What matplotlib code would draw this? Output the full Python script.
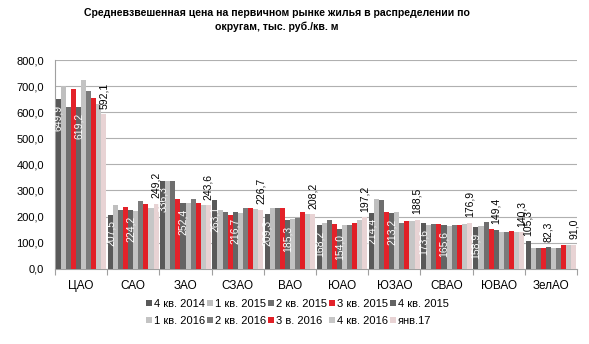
import numpy as np
import matplotlib
matplotlib.use("Agg")
import matplotlib.pyplot as plt
from matplotlib.ticker import FixedLocator, FuncFormatter

plt.rcParams['font.family'] = ['Liberation Sans', 'DejaVu Sans']

districts = ["ЦАО", "САО", "ЗАО", "СЗАО", "ВАО", "ЮАО", "ЮЗАО", "СВАО", "ЮВАО", "ЗелАО"]
periods = ["4 кв. 2014", "1 кв. 2015", "2 кв. 2015", "3 кв. 2015", "4 кв. 2015",
           "1 кв. 2016", "2 кв. 2016", "3 в. 2016", "4 кв. 2016", "янв.17"]

q4_2014 = [649.9, 207.5, 336.3, 263.1, 209.3, 168.2, 214.4, 173.6, 158.9, 105.3]
q1_2015 = [700.0, 244.0, 337.0, 226.0, 233.0, 177.0, 268.0, 168.0, 164.0, 78.0]
q2_2015 = [620.0, 226.0, 337.0, 217.0, 233.0, 186.0, 263.0, 172.0, 179.0, 78.0]
q3_2015 = [690.0, 236.0, 267.0, 206.0, 233.0, 170.0, 217.0, 171.0, 153.0, 78.0]
q4_2015 = [619.2, 224.2, 252.4, 216.7, 185.3, 154.0, 213.2, 165.6, 149.4, 82.3]
q1_2016 = [723.0, 222.0, 252.0, 213.0, 191.0, 168.0, 217.0, 164.0, 140.0, 81.0]
q2_2016 = [681.0, 258.0, 268.0, 233.0, 196.0, 168.0, 177.0, 167.0, 140.0, 78.0]
q3_2016 = [654.0, 249.0, 252.0, 233.0, 217.0, 177.0, 181.0, 168.0, 144.0, 91.0]
q4_2016 = [631.0, 233.0, 245.0, 229.0, 209.0, 185.0, 183.0, 171.0, 142.0, 91.0]
jan_2017 = [592.1, 249.2, 243.6, 226.7, 208.2, 197.2, 188.5, 176.9, 140.3, 91.0]

series = [q4_2014, q1_2015, q2_2015, q3_2015, q4_2015,
          q1_2016, q2_2016, q3_2016, q4_2016, jan_2017]
colors = ["#595959", "#bfbfbf", "#6e6e6e", "#e3222a", "#646464",
          "#c3c3c3", "#7b7b7b", "#e11f26", "#c6c6c6", "#e8d3d4"]

yticks = [0, 100, 200, 300, 400, 500, 600, 700, 800]

fmt = lambda v: f"{v:.1f}".replace(".", ",")

fig = plt.figure(figsize=(5.89, 3.44), dpi=100)
ax = fig.add_axes([55 / 589, 1 - 268.7 / 344, 522 / 589, 208.7 / 344])

x = np.arange(len(districts))
w = 0.097
bars = []
for j, (vals, c) in enumerate(zip(series, colors)):
    b = ax.bar(x + (j - 4.5) * w, vals, width=w, color=c, label=periods[j], zorder=3)
    bars.append(b)

# data labels: series 1 and 5 inside (white), last series above (black)
for j in (0, 4, 9):
    for i, v in enumerate(series[j]):
        xi = x[i] + (j - 4.5) * w
        inside = j != 9 and districts[i] != "ЗелАО" and not (j == 4 and districts[i] == "ЮВАО")
        if inside:
            ax.annotate(fmt(v), (xi, v), xytext=(0, -4), textcoords="offset points",
                        rotation=90, ha="center", va="top", color="white", fontsize=7.5, zorder=4)
        else:
            ax.annotate(fmt(v), (xi, v), xytext=(0, 4), textcoords="offset points",
                        rotation=90, ha="center", va="bottom", color="black", fontsize=7.5, zorder=4)

ax.set_xlim(-0.5, 9.5)
ax.set_ylim(0, 800)
ax.set_yticks(yticks)
ax.yaxis.set_major_formatter(FuncFormatter(lambda v, p: fmt(v)))
ax.tick_params(axis="y", length=0, pad=8, labelsize=8)
ax.grid(axis="y", color="#b0b0b0", linewidth=0.8, zorder=0)

ax.xaxis.set_major_locator(FixedLocator(np.arange(-0.5, 10, 1)))
ax.xaxis.set_minor_locator(FixedLocator(x))
ax.set_xticklabels([], minor=False)
ax.set_xticks(x, districts, minor=True)
ax.tick_params(axis="x", which="major", length=4, color="#a0a0a0")
ax.tick_params(axis="x", which="minor", length=0, pad=8, labelsize=8.5)

for s in ("top", "right"):
    ax.spines[s].set_visible(False)
for s in ("left", "bottom"):
    ax.spines[s].set_color("#a0a0a0")

fig.text(277 / 589, 1 - 20 / 344,
         "Средневзвешенная цена на первичном рынке жилья в распределении по\nокругам, тыс. руб./кв. м",
         ha="center", va="center", fontsize=7.6, fontweight="bold", linespacing=1.45)

# legend row by row: matplotlib fills columns first
order = [0, 5, 1, 6, 2, 7, 3, 8, 4, 9]
h = [bars[k] for k in order]
l = [periods[k] for k in order]
ax.legend(h, l, ncol=5, loc="upper left", bbox_to_anchor=(146 / 589, 1 - 299 / 344),
          bbox_transform=fig.transFigure, frameon=False, fontsize=8,
          handlelength=0.5, handleheight=0.5, handletextpad=0.2, columnspacing=0.2,
          labelspacing=0.6, borderaxespad=0, borderpad=0)

plt.savefig("out.png", dpi=100)
